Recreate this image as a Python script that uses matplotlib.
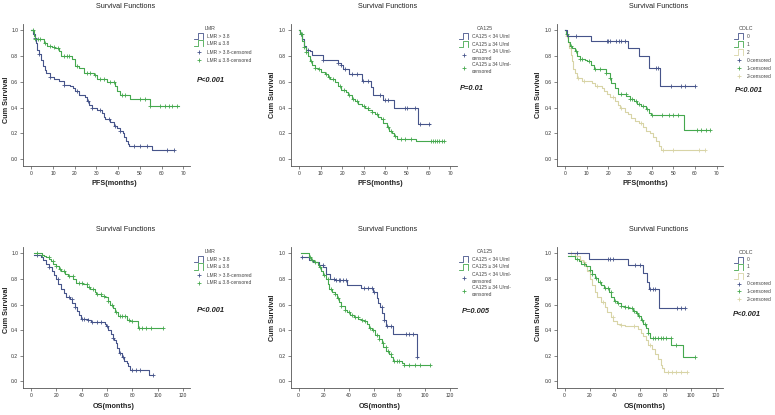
import numpy as np
import matplotlib.pyplot as plt
from matplotlib.lines import Line2D

# ---- data (months, cumulative survival) ----
# PFS by LMR
pfs_lmr_a_t = [0, 1.0, 1.5, 2.3, 2.8, 3.4, 4.5, 5.4, 6.2, 6.9, 8.4, 10.3, 12.6, 14.9, 18.0, 19.2, 20.3, 21.8,
               24.9, 25.6, 26.4, 27.9, 30.2, 32.5, 33.3, 34.1, 36.4, 37.9, 39.5, 41.0, 42.1, 42.8, 43.6, 44.4,
               44.8, 55.6]
pfs_lmr_a_s = [1.0, 0.97, 0.94, 0.90, 0.85, 0.82, 0.77, 0.72, 0.69, 0.67, 0.64, 0.62, 0.61, 0.58, 0.57, 0.55,
               0.53, 0.50, 0.48, 0.45, 0.42, 0.40, 0.38, 0.36, 0.33, 0.31, 0.29, 0.26, 0.24, 0.22, 0.20, 0.17,
               0.14, 0.12, 0.10, 0.07]
pfs_lmr_a_end = 65.5
pfs_lmr_a_c = [1.8, 3.7, 8.8, 14.9, 21.0, 25.9, 27.9, 31.8, 35.6, 38.7, 41.0, 47.1, 50.2, 53.0, 62.5, 65.5]

pfs_lmr_b_t = [0, 1.1, 1.5, 5.7, 7.2, 9.5, 11.1, 12.6, 13.8, 18.7, 20.3, 21.8, 24.1, 28.7, 30.2, 34.8, 38.7,
               39.5, 40.7, 45.6, 54.5]
pfs_lmr_b_s = [1.0, 0.96, 0.93, 0.90, 0.88, 0.87, 0.86, 0.84, 0.80, 0.78, 0.72, 0.71, 0.67, 0.65, 0.62, 0.60,
               0.57, 0.53, 0.50, 0.47, 0.41]
pfs_lmr_b_end = 67.9
pfs_lmr_b_c = [0.6, 1.8, 2.9, 4.1, 6.1, 8.4, 10.3, 12.1, 14.9, 16.4, 17.2, 21.0, 25.6, 27.2, 29.4, 31.8, 33.3,
               36.4, 37.9, 41.8, 43.3, 50.2, 52.5, 54.8, 59.4, 61.7, 63.2, 64.8, 67.1]

# PFS by CA125
pfs_ca_a_t = [0, 0.6, 1.6, 2.3, 3.4, 5.0, 6.2, 11.2, 18.2, 19.7, 20.5, 23.3, 29.0, 33.4, 34.5, 38.8, 43.8, 54.9]
pfs_ca_a_s = [1.0, 0.97, 0.93, 0.88, 0.85, 0.84, 0.81, 0.77, 0.75, 0.73, 0.70, 0.66, 0.61, 0.56, 0.50, 0.46,
              0.40, 0.27]
pfs_ca_a_end = 60.5
pfs_ca_a_c = [1.1, 4.2, 11.2, 18.2, 19.7, 21.3, 24.4, 26.7, 29.8, 32.1, 37.6, 39.9, 41.4, 49.2, 50.0, 53.9,
              55.9, 60.0]

pfs_ca_b_t = [0, 0.6, 1.6, 2.3, 3.1, 4.2, 5.0, 6.2, 7.3, 8.8, 10.4, 12.0, 13.5, 14.6, 16.6, 18.2, 19.7, 21.7,
              22.8, 24.4, 25.9, 27.5, 29.0, 30.6, 32.1, 33.7, 35.2, 36.8, 37.9, 39.1, 40.7, 41.9, 43.0, 44.1,
              45.3, 54.3]
pfs_ca_b_s = [1.0, 0.97, 0.92, 0.87, 0.83, 0.80, 0.76, 0.73, 0.71, 0.70, 0.68, 0.66, 0.64, 0.62, 0.60, 0.57,
              0.54, 0.52, 0.50, 0.47, 0.45, 0.43, 0.41, 0.40, 0.38, 0.37, 0.35, 0.33, 0.31, 0.28, 0.25, 0.22,
              0.20, 0.18, 0.16, 0.14]
pfs_ca_b_end = 67.0
pfs_ca_b_c = [0.8, 1.5, 2.5, 3.5, 5.5, 7.5, 9.5, 12.5, 14.0, 16.0, 19.0, 21.0, 23.0, 25.0, 27.0, 30.0, 32.0,
              34.0, 36.0, 39.0, 41.0, 42.5, 44.5, 47.0, 49.0, 52.0, 61.0, 62.0, 63.0, 64.0, 65.0, 66.0, 67.0]

# PFS by COLC
pfs_colc0_t = [0, 0.8, 12.0, 29.2, 34.2, 38.7, 43.9]
pfs_colc0_s = [1.0, 0.96, 0.92, 0.86, 0.80, 0.71, 0.57]
pfs_colc0_end = 59.9
pfs_colc0_c = [5.1, 19.2, 20.0, 20.7, 23.8, 24.9, 26.1, 27.9, 42.2, 43.0, 48.8, 53.7, 55.6, 59.9]

pfs_colc1_t = [0, 0.5, 1.5, 2.3, 3.4, 4.6, 5.7, 6.9, 9.2, 10.0, 12.0, 13.5, 18.9, 20.7, 21.5, 23.0, 24.3,
               28.4, 29.9, 31.9, 33.5, 35.3, 37.6, 38.7, 39.9, 54.8]
pfs_colc1_s = [1.0, 0.97, 0.91, 0.88, 0.86, 0.84, 0.80, 0.78, 0.77, 0.76, 0.73, 0.70, 0.67, 0.63, 0.59, 0.55,
               0.51, 0.49, 0.47, 0.45, 0.43, 0.41, 0.39, 0.36, 0.34, 0.23]
pfs_colc1_end = 67.1
pfs_colc1_c = [1.0, 3.0, 5.0, 7.0, 8.0, 11.0, 14.0, 16.0, 19.0, 21.0, 26.0, 28.0, 30.0, 31.0, 33.0, 34.0,
               36.0, 38.0, 40.0, 45.0, 48.0, 50.0, 52.0, 61.0, 63.0, 65.0, 67.0]

pfs_colc2_t = [0, 0.3, 1.2, 2.0, 2.8, 3.4, 3.8, 4.6, 5.4, 7.7, 12.3, 13.8, 17.2, 18.1, 19.2, 20.7, 23.0, 24.6,
               25.3, 27.6, 29.2, 30.7, 32.2, 34.1, 36.1, 37.6, 39.1, 40.7, 42.2, 43.3, 44.5]
pfs_colc2_s = [1.0, 0.96, 0.91, 0.86, 0.81, 0.76, 0.70, 0.67, 0.63, 0.61, 0.59, 0.57, 0.55, 0.53, 0.51, 0.48,
               0.45, 0.42, 0.40, 0.37, 0.35, 0.32, 0.30, 0.28, 0.25, 0.22, 0.20, 0.17, 0.14, 0.10, 0.07]
pfs_colc2_end = 64.9
pfs_colc2_c = [1.0, 6.0, 9.0, 15.0, 22.0, 26.0, 35.0, 45.5, 50.0, 62.0, 64.9]

# OS by LMR
os_lmr_a_t = [2.6, 7.9, 9.3, 11.9, 14.0, 16.7, 18.5, 19.9, 21.2, 23.3, 25.7, 27.8, 30.5, 32.6, 34.4, 36.3,
              37.9, 39.7, 45.0, 47.7, 58.3, 59.6, 60.9, 62.8, 64.4, 65.4, 67.0, 68.1, 69.4, 71.5, 73.4, 75.5,
              76.8, 78.1, 93.2]
os_lmr_a_s = [0.99, 0.97, 0.95, 0.92, 0.89, 0.86, 0.83, 0.80, 0.76, 0.72, 0.69, 0.66, 0.64, 0.61, 0.58, 0.55,
              0.52, 0.49, 0.48, 0.46, 0.45, 0.43, 0.40, 0.37, 0.34, 0.32, 0.30, 0.26, 0.22, 0.19, 0.16, 0.14,
              0.12, 0.09, 0.05]
os_lmr_a_end = 96.2
os_lmr_a_c = [5, 14, 21, 30, 32, 35, 40, 42, 45, 48, 52, 55, 60, 65, 70, 73, 80, 83, 86, 96]

os_lmr_b_t = [2.6, 8.7, 10.6, 11.9, 14.6, 15.9, 17.7, 19.9, 22.0, 23.8, 26.5, 29.1, 33.1, 35.2, 41.1, 44.2,
              46.9, 50.3, 51.7, 55.6, 58.3, 60.9, 62.3, 64.9, 66.2, 68.9, 75.5, 78.1, 84.2]
os_lmr_b_s = [1.0, 0.99, 0.98, 0.97, 0.96, 0.94, 0.92, 0.90, 0.88, 0.86, 0.84, 0.82, 0.80, 0.77, 0.76, 0.74,
              0.72, 0.70, 0.68, 0.67, 0.66, 0.63, 0.60, 0.57, 0.54, 0.51, 0.48, 0.47, 0.42]
os_lmr_b_end = 103.8
os_lmr_b_c = [5, 9, 14, 17, 20, 23, 26, 30, 33, 38, 40, 44, 46, 49, 52, 55, 58, 61, 64, 67, 70, 72, 74, 77,
              80, 85, 88, 91, 95, 103.8]

# OS by CA125
os_ca_a_t = [1.9, 8.5, 11.2, 16.5, 19.2, 21.9, 25.1, 28.5, 38.4, 49.9, 59.2, 61.9, 63.2, 64.5, 66.4, 67.7,
             69.3, 74.7, 93.9]
os_ca_a_s = [0.97, 0.95, 0.93, 0.91, 0.89, 0.84, 0.80, 0.79, 0.75, 0.73, 0.70, 0.65, 0.61, 0.58, 0.53, 0.48,
             0.43, 0.37, 0.19]
os_ca_a_end = 94.4
os_ca_a_c = [3, 8, 19, 28, 30, 32, 33, 35, 38, 52, 55, 58, 60, 66, 68, 70, 73, 85, 88, 91, 94]

os_ca_b_t = [1.9, 8.0, 9.9, 12.5, 15.2, 16.5, 17.9, 19.7, 21.9, 23.2, 24.5, 26.7, 28.5, 30.4, 32.0, 33.9,
             36.5, 38.4, 41.1, 43.7, 47.2, 49.9, 51.7, 53.9, 56.0, 57.9, 60.5, 64.0, 65.9, 67.2, 69.3, 72.0,
             73.3, 75.2, 81.9, 83.7]
os_ca_b_s = [1.0, 0.97, 0.95, 0.93, 0.91, 0.89, 0.86, 0.83, 0.80, 0.76, 0.72, 0.70, 0.68, 0.65, 0.62, 0.59,
             0.56, 0.54, 0.52, 0.50, 0.49, 0.48, 0.47, 0.45, 0.42, 0.40, 0.36, 0.33, 0.30, 0.27, 0.24, 0.21,
             0.19, 0.16, 0.14, 0.13]
os_ca_b_end = 104.0
os_ca_b_c = [9, 11, 13, 17, 20, 23, 26, 29, 31, 34, 37, 40, 42, 45, 47, 50, 53, 57, 59, 62, 64, 67, 69, 71,
             73, 76, 78, 80, 84, 88, 92, 96, 104]

# OS by COLC
os_colc0_t = [2.6, 19.1, 50.3, 62.3, 64.9, 66.8, 75.0]
os_colc0_s = [1.0, 0.96, 0.91, 0.85, 0.78, 0.72, 0.57]
os_colc0_end = 95.4
os_colc0_c = [10, 34, 36, 38, 56, 60, 68, 70, 72, 89, 92, 95]

os_colc1_t = [2.6, 7.9, 11.1, 13.2, 17.2, 19.9, 21.7, 23.8, 26.5, 28.6, 31.3, 35.2, 37.1, 39.2, 41.1, 45.0,
              47.7, 50.3, 54.3, 56.2, 58.3, 60.4, 62.3, 64.1, 65.7, 67.5, 84.2, 93.5]
os_colc1_s = [0.98, 0.96, 0.94, 0.92, 0.90, 0.87, 0.84, 0.81, 0.78, 0.75, 0.73, 0.70, 0.66, 0.63, 0.61, 0.59,
              0.58, 0.57, 0.55, 0.53, 0.51, 0.48, 0.45, 0.42, 0.38, 0.34, 0.28, 0.19]
os_colc1_end = 103.3
os_colc1_c = [10, 15, 20, 22, 25, 28, 32, 34, 37, 40, 42, 45, 48, 50, 53, 55, 57, 59, 61, 64, 66, 70, 72, 74,
              76, 78, 80, 84, 88, 103]

os_colc2_t = [2.6, 8.5, 11.9, 14.6, 16.4, 18.0, 19.9, 21.7, 23.8, 26.0, 28.6, 31.8, 33.9, 36.6, 38.4, 41.1,
              44.5, 47.7, 58.3, 60.4, 62.3, 64.1, 66.2, 68.9, 71.5, 73.6, 76.0, 77.4, 78.9]
os_colc2_s = [1.0, 0.98, 0.95, 0.93, 0.90, 0.86, 0.80, 0.75, 0.70, 0.66, 0.62, 0.58, 0.54, 0.50, 0.47, 0.45,
              0.44, 0.43, 0.41, 0.38, 0.35, 0.32, 0.28, 0.25, 0.21, 0.17, 0.13, 0.10, 0.07]
os_colc2_end = 96.7
os_colc2_c = [5, 15, 30, 38, 45, 55, 68, 82, 85, 88, 92, 96.7]

p_values = ['P<0.001', 'P=0.01', 'P<0.001', 'P<0.001', 'P=0.005', 'P<0.001']

BLUE = '#46548a'
GREEN = '#45a84e'
TAN = '#d8d4a6'
AXC = '#555555'

W, H = 775, 415
fig = plt.figure(figsize=(W / 100, H / 100), dpi=100)
fig.patch.set_facecolor('white')
plt.rcParams['font.family'] = ['Liberation Sans', 'DejaVu Sans']


def fx(x):
    return x / W


def fy(y):
    return 1 - y / H


def km(ax, t, s, end, cens, color):
    t = np.asarray(t, float)
    s = np.asarray(s, float)
    ax.step(np.r_[t, end], np.r_[s, s[-1]], where='post', color=color, lw=0.8)
    idx = np.searchsorted(t, cens, side='right') - 1
    ax.plot(cens, s[np.clip(idx, 0, None)], ls='none', marker='+', ms=3.2,
            mew=0.6, color=color)


def make_axes(x0, x1, y0, y1, xmax, xstep, xlim):
    ax = fig.add_axes([fx(x0), fy(y1), fx(x1) - fx(x0), (y1 - y0) / H])
    ax.set_xlim(*xlim)
    ax.set_ylim(-0.053, 1.05)
    ax.set_xticks(np.arange(0, xmax + 1, xstep))
    ax.set_yticks(np.arange(0, 1.01, 0.2))
    ax.set_yticklabels([f'{v:.1f}' for v in np.arange(0, 1.01, 0.2)])
    for sp in ['top', 'right']:
        ax.spines[sp].set_visible(False)
    for sp in ['left', 'bottom']:
        ax.spines[sp].set_color(AXC)
        ax.spines[sp].set_linewidth(0.6)
    ax.tick_params(length=2, width=0.5, color=AXC, labelsize=3.6,
                   labelcolor='#333333', pad=1.5)
    return ax


def legend(x, y, title, entries, tx):
    # entries: (label, color, kind, y)
    fig.text(fx(tx), fy(y), title, fontsize=3.8, color='#444444', ha='center', va='center')
    for label, color, kind, ey in entries:
        if kind == 'step':
            px = [x - 2, x + 2, x + 2, x + 7, x + 7]
            py = [ey + 3, ey + 3, ey - 3, ey - 3, ey + 3]
            fig.add_artist(Line2D([fx(p) for p in px], [fy(p) for p in py],
                                  color=color, lw=0.6, transform=fig.transFigure))
        else:
            fig.add_artist(Line2D([fx(x + 3)], [fy(ey)], marker='+', ms=3.5, mew=0.6,
                                  color=color, transform=fig.transFigure))
        fig.text(fx(x + 11), fy(ey), label, fontsize=3.5, color='#444444',
                 ha='left', va='center', linespacing=1.3)


rows = [
    dict(y0=24, y1=166, xmax=70, xstep=10, xlim=(-3.8, 73), xl='PFS(months)', ty=6, lab_y=183,
         ylab_y=[100, 95, 95], leg_dy=0),
    dict(y0=247, y1=388, xmax=120, xstep=20, xlim=(-6.3, 125.5), xl='OS(months)', ty=229, lab_y=406,
         ylab_y=[310, 318, 318], leg_dy=223),
]
cols = [
    dict(x0=23, x1=190, tx=126, xlab=114, ylab_x=7, legx=196, ptx=197),
    dict(x0=290.7, x1=456.7, tx=388, xlab=380, ylab_x=272, legx=461, ptx=460),
    dict(x0=556.7, x1=723, tx=659, xlab=645, ylab_x=538, legx=736, ptx=735),
]

curves = [
    [(pfs_lmr_a_t, pfs_lmr_a_s, pfs_lmr_a_end, pfs_lmr_a_c, BLUE),
     (pfs_lmr_b_t, pfs_lmr_b_s, pfs_lmr_b_end, pfs_lmr_b_c, GREEN)],
    [(pfs_ca_a_t, pfs_ca_a_s, pfs_ca_a_end, pfs_ca_a_c, BLUE),
     (pfs_ca_b_t, pfs_ca_b_s, pfs_ca_b_end, pfs_ca_b_c, GREEN)],
    [(pfs_colc2_t, pfs_colc2_s, pfs_colc2_end, pfs_colc2_c, TAN),
     (pfs_colc1_t, pfs_colc1_s, pfs_colc1_end, pfs_colc1_c, GREEN),
     (pfs_colc0_t, pfs_colc0_s, pfs_colc0_end, pfs_colc0_c, BLUE)],
    [(os_lmr_a_t, os_lmr_a_s, os_lmr_a_end, os_lmr_a_c, BLUE),
     (os_lmr_b_t, os_lmr_b_s, os_lmr_b_end, os_lmr_b_c, GREEN)],
    [(os_ca_a_t, os_ca_a_s, os_ca_a_end, os_ca_a_c, BLUE),
     (os_ca_b_t, os_ca_b_s, os_ca_b_end, os_ca_b_c, GREEN)],
    [(os_colc2_t, os_colc2_s, os_colc2_end, os_colc2_c, TAN),
     (os_colc1_t, os_colc1_s, os_colc1_end, os_colc1_c, GREEN),
     (os_colc0_t, os_colc0_s, os_colc0_end, os_colc0_c, BLUE)],
]

p_pos = [(197, 81), (460, 88), (735, 91), (197, 310), (462, 311), (733, 314)]

for r, row in enumerate(rows):
    for c, col in enumerate(cols):
        k = r * 3 + c
        ax = make_axes(col['x0'], col['x1'], row['y0'], row['y1'], row['xmax'], row['xstep'], row['xlim'])
        for t, s, end, cens, color in curves[k]:
            km(ax, t, s, end, cens, color)
        fig.text(fx(col['tx']), fy(row['ty']), 'Survival Functions', fontsize=5.2,
                 ha='center', va='center', color='#222222')
        fig.text(fx(col['xlab']), fy(row['lab_y']), row['xl'], fontsize=5.2, fontweight='bold',
                 ha='center', va='center', color='#222222')
        fig.text(fx(col['ylab_x']), fy(row['ylab_y'][c]), 'Cum Survival', fontsize=5.2,
                 fontweight='bold', rotation=90, ha='center', va='center', color='#222222')
        px, py = p_pos[k]
        fig.text(fx(px), fy(py), p_values[k], fontsize=5.4, fontweight='bold', fontstyle='italic',
                 ha='left', va='center', color='#222222')

        d = row['leg_dy']
        lx = col['legx']
        if c == 0:
            legend(lx, 28 + d, 'LMR', [
                ('LMR > 3.8', BLUE, 'step', 36 + d),
                ('LMR \u2264 3.8', GREEN, 'step', 43.5 + d),
                ('LMR > 3.8-censored', BLUE, '+', 52 + d),
                ('LMR \u2264 3.8-censored', GREEN, '+', 60 + d)], tx=lx + 14)
        elif c == 1:
            legend(lx, 28 + d, 'CA125', [
                ('CA125 < 34 U/ml', BLUE, 'step', 36 + d),
                ('CA125 \u2265 34 U/ml', GREEN, 'step', 44 + d),
                ('CA125 < 34 U/ml-\ncensored', BLUE, '+', 55 + d),
                ('CA125 \u2265 34 U/ml-\ncensored', GREEN, '+', 68 + d)], tx=lx + 24)
        else:
            legend(lx, 29 + d, 'COLC', [
                ('0', BLUE, 'step', 36.5 + d),
                ('1', GREEN, 'step', 44 + d),
                ('2', TAN, 'step', 52.5 + d),
                ('0-censored', BLUE, '+', 60.5 + d),
                ('1-censored', GREEN, '+', 68.3 + d),
                ('2-censored', TAN, '+', 76.3 + d)], tx=lx + 10)

fig.savefig('out.png', dpi=100)
